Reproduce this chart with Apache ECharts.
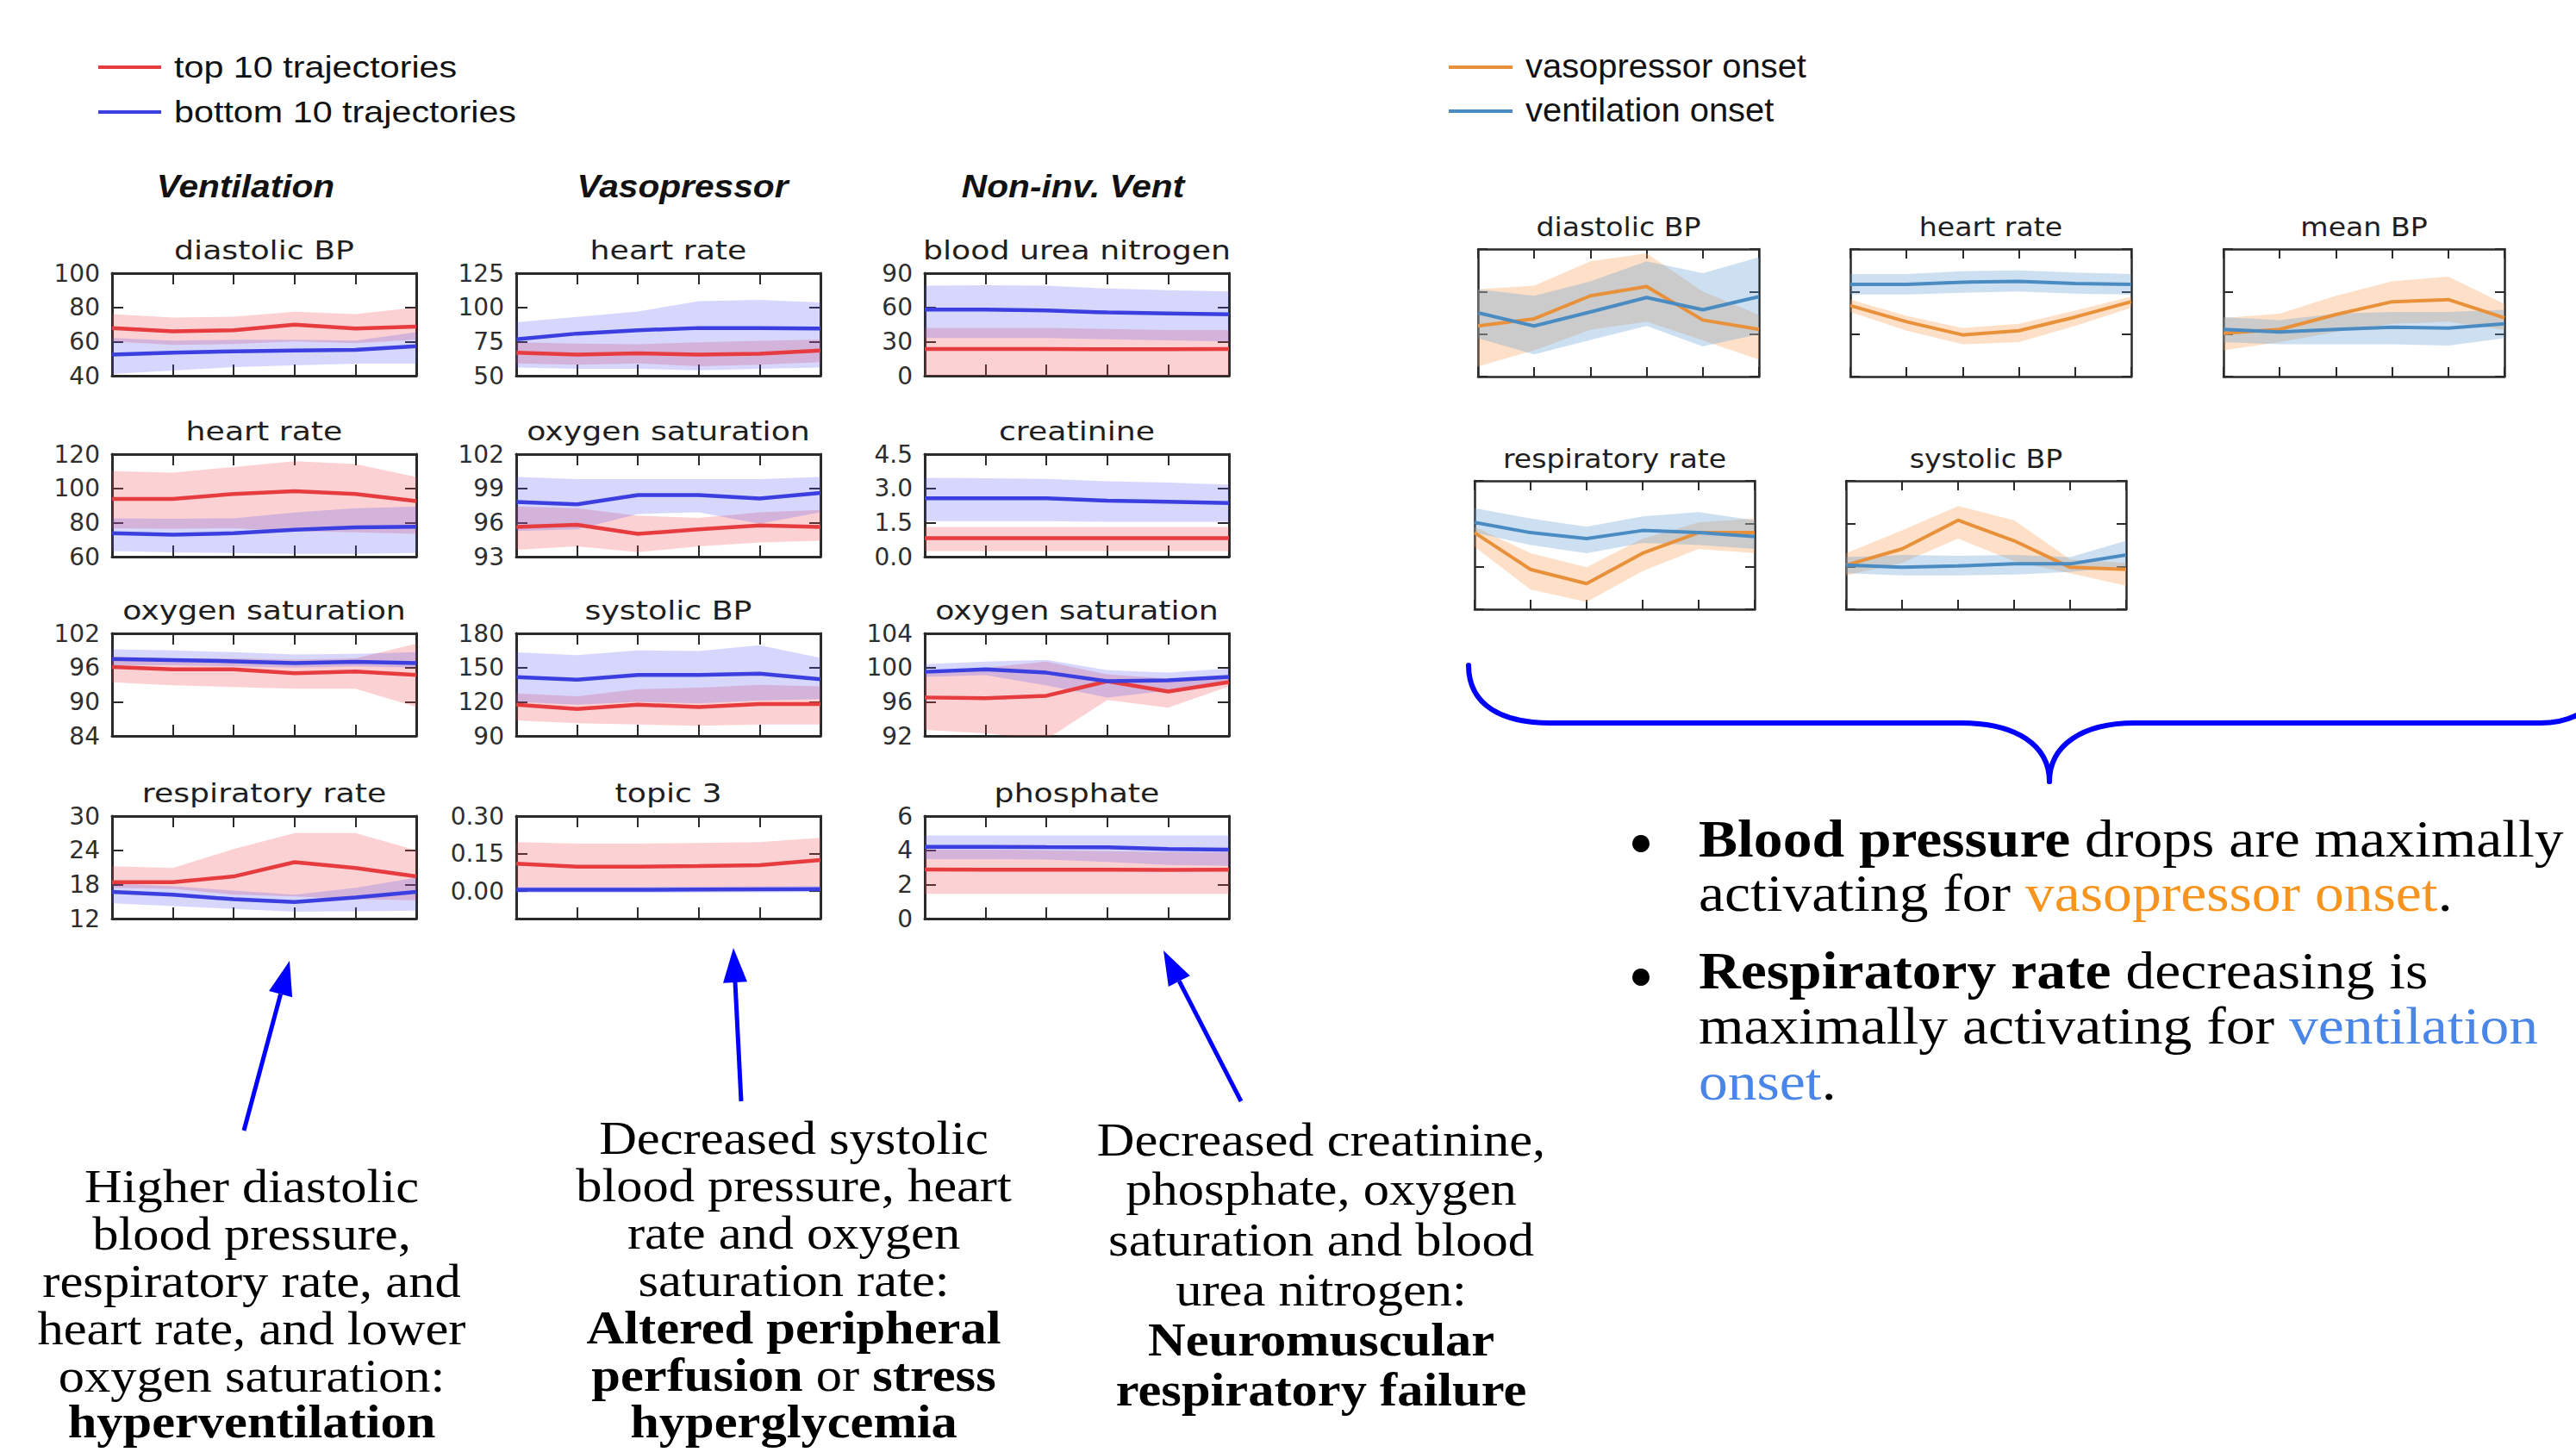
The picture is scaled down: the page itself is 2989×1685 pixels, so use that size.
<!DOCTYPE html>
<html><head><meta charset="utf-8">
<script src="https://cdn.jsdelivr.net/npm/echarts@6/dist/echarts.min.js"></script>
<style>html,body{margin:0;padding:0;background:#fff;}#c{width:2989px;height:1685px;}</style>
</head><body><div id="c"></div>
<script>
// ---------- DATA ----------
const timeSteps = ['0', '1', '2', '3', '4', '5'];

// Ventilation: diastolic BP
const ventDiaTopMean = [67.9, 66.0, 66.6, 69.9, 67.6, 68.8];
const ventDiaTopLow  = [60, 58, 58.5, 60, 59, 61];
const ventDiaTopHigh = [76, 74, 74.5, 77.5, 76, 80];
const ventDiaBotMean = [52.3, 53.5, 54.3, 54.8, 55.1, 57.3];
const ventDiaBotLow  = [41, 43, 45, 46, 47, 47];
const ventDiaBotHigh = [62, 60.5, 61, 61, 60.5, 65.5];
// Ventilation: heart rate
const ventHrTopMean = [93.8, 93.8, 96.7, 98.3, 96.7, 92.5];
const ventHrTopLow  = [76.7, 76.2, 76.7, 75, 74.2, 73.3];
const ventHrTopHigh = [110, 109.2, 112.5, 115.8, 114.2, 106.7];
const ventHrBotMean = [73.7, 72.8, 73.7, 75.8, 77.2, 77.5];
const ventHrBotLow  = [63.3, 62.5, 62.2, 61.7, 61.7, 62.2];
const ventHrBotHigh = [82.5, 82.2, 82.5, 85.8, 88.3, 89.2];
// Ventilation: oxygen saturation
const ventO2TopMean = [96.1, 95.7, 95.7, 95.0, 95.3, 94.7];
const ventO2TopLow  = [93.4, 92.9, 92.6, 92.3, 92.3, 89.1];
const ventO2TopHigh = [97.9, 97.6, 97.6, 97.4, 97.6, 100.2];
const ventO2BotMean = [97.5, 97.3, 97.1, 96.8, 97.0, 96.8];
const ventO2BotLow  = [96.4, 96.4, 96.2, 96.0, 96.2, 96.0];
const ventO2BotHigh = [99.2, 99.0, 98.7, 98.3, 98.4, 98.7];
// Ventilation: respiratory rate
const ventRrTopMean = [18.4, 18.4, 19.4, 21.9, 20.9, 19.4];
const ventRrTopLow  = [17.4, 17.2, 16.2, 15.9, 15.4, 15.2];
const ventRrTopHigh = [21.2, 20.9, 24.2, 27.0, 27.0, 24.0];
const ventRrBotMean = [16.7, 16.2, 15.4, 14.9, 15.7, 16.7];
const ventRrBotLow  = [14.7, 14.2, 13.7, 13.2, 13.3, 13.4];
const ventRrBotHigh = [18.2, 17.7, 16.9, 16.2, 17.4, 19.2];

// Vasopressor: heart rate
const vasoHrTopMean = [66.8, 65.4, 66.4, 65.4, 66.0, 68.5];
const vasoHrTopLow  = [59, 58, 59, 57, 58, 60];
const vasoHrTopHigh = [74.5, 73.5, 73, 74.5, 75.5, 76.5];
const vasoHrBotMean = [76.7, 80.8, 83.3, 84.9, 84.9, 84.5];
const vasoHrBotLow  = [56, 55, 55, 54, 55, 56];
const vasoHrBotHigh = [89, 93, 97, 104.5, 105.5, 103.5];
// Vasopressor: oxygen saturation
const vasoO2TopMean = [95.6, 95.8, 95.0, 95.4, 95.75, 95.6];
const vasoO2TopLow  = [93.6, 93.9, 93.4, 93.9, 94.25, 94.4];
const vasoO2TopHigh = [97.4, 97.25, 96.6, 96.4, 96.9, 97.1];
const vasoO2BotMean = [97.8, 97.6, 98.4, 98.4, 98.1, 98.6];
const vasoO2BotLow  = [95.25, 95.4, 96.75, 96.9, 95.9, 96.9];
const vasoO2BotHigh = [100, 99.8, 99.8, 99.8, 99.8, 100];
// Vasopressor: systolic BP
const vasoSbpTopMean = [117.4, 113.6, 117.4, 115.4, 117.9, 117.9];
const vasoSbpTopLow  = [103.7, 101.2, 100, 98.8, 100, 100];
const vasoSbpTopHigh = [127.3, 124.8, 131, 132.3, 134.8, 133.5];
const vasoSbpBotMean = [141.7, 139.3, 143.5, 143.5, 144.7, 139.7];
const vasoSbpBotLow  = [119.8, 117.4, 119.8, 118.6, 121.1, 122.3];
const vasoSbpBotHigh = [163.3, 160.9, 165, 164.5, 169.6, 158.4];
// Vasopressor: topic 3
const vasoTopicTopMean = [0.11, 0.098, 0.098, 0.1, 0.104, 0.124];
const vasoTopicTopLow  = [0.015, 0.015, 0.015, 0.015, 0.016, 0.018];
const vasoTopicTopHigh = [0.196, 0.19, 0.19, 0.192, 0.196, 0.213];
const vasoTopicBotMean = [0.005, 0.005, 0.005, 0.006, 0.007, 0.008];
const vasoTopicBotLow  = [-0.007, -0.007, -0.007, -0.006, -0.005, -0.004];
const vasoTopicBotHigh = [0.017, 0.017, 0.017, 0.018, 0.019, 0.02];

// Non-inv. Vent: blood urea nitrogen
const nivBunTopMean = [23.5, 23.4, 23.4, 23.3, 23.3, 23.4];
const nivBunTopLow  = [-4, -4, -4, -4, -4, -4];
const nivBunTopHigh = [42, 42, 42, 41, 40, 40];
const nivBunBotMean = [58.0, 58.0, 57.2, 55.5, 54.7, 53.8];
const nivBunBotLow  = [33, 33, 33, 32, 31, 30];
const nivBunBotHigh = [79, 79.5, 79, 76.5, 75, 74];
// Non-inv. Vent: creatinine
const nivCrTopMean = [0.81, 0.81, 0.81, 0.81, 0.81, 0.81];
const nivCrTopLow  = [0.25, 0.25, 0.25, 0.25, 0.25, 0.25];
const nivCrTopHigh = [1.3, 1.3, 1.3, 1.3, 1.3, 1.3];
const nivCrBotMean = [2.56, 2.56, 2.56, 2.46, 2.41, 2.35];
const nivCrBotLow  = [1.56, 1.56, 1.56, 1.53, 1.53, 1.53];
const nivCrBotHigh = [3.46, 3.44, 3.41, 3.31, 3.25, 3.16];
// Non-inv. Vent: oxygen saturation
const nivO2TopMean = [96.5, 96.4, 96.7, 98.4, 97.2, 98.3];
const nivO2TopLow  = [92.7, 92.3, 91.6, 96.2, 95.3, 97.8];
const nivO2TopHigh = [99.5, 100, 100.7, 99.2, 98.7, 99.0];
const nivO2BotMean = [99.5, 99.8, 99.4, 98.4, 98.5, 98.9];
const nivO2BotLow  = [98.9, 99.1, 97.9, 96.5, 97.3, 98.1];
const nivO2BotHigh = [100.4, 100.7, 100.9, 99.7, 99.4, 99.9];
// Non-inv. Vent: phosphate
const nivPhTopMean = [2.87, 2.86, 2.86, 2.86, 2.85, 2.86];
const nivPhTopLow  = [1.45, 1.45, 1.45, 1.45, 1.45, 1.45];
const nivPhTopHigh = [4.05, 4.05, 4.0, 3.95, 3.9, 3.9];
const nivPhBotMean = [4.2, 4.2, 4.18, 4.17, 4.07, 4.03];
const nivPhBotLow  = [3.48, 3.48, 3.45, 3.31, 3.14, 3.09];
const nivPhBotHigh = [4.87, 4.87, 4.87, 4.87, 4.87, 4.87];

// Right figure (normalised units, axis 0..3)
const rDiaVasoMean = [1.19, 1.36, 1.90, 2.12, 1.33, 1.11];
const rDiaVasoLow  = [0.24, 0.62, 1.10, 1.29, 0.85, 0.40];
const rDiaVasoHigh = [2.05, 2.14, 2.71, 2.90, 2.00, 1.45];
const rDiaVentMean = [1.50, 1.19, 1.52, 1.86, 1.57, 1.88];
const rDiaVentLow  = [0.90, 0.52, 0.86, 1.19, 0.71, 1.00];
const rDiaVentHigh = [2.05, 1.90, 2.24, 2.71, 2.43, 2.81];

const rHrVasoMean = [1.67, 1.29, 0.98, 1.08, 1.40, 1.76];
const rHrVasoLow  = [1.52, 1.08, 0.76, 0.81, 1.19, 1.62];
const rHrVasoHigh = [1.81, 1.43, 1.14, 1.24, 1.55, 1.88];
const rHrVentMean = [2.17, 2.17, 2.22, 2.24, 2.19, 2.17];
const rHrVentLow  = [1.93, 1.93, 1.97, 2.00, 1.95, 1.93];
const rHrVentHigh = [2.41, 2.41, 2.48, 2.50, 2.45, 2.41];

const rMbpVasoMean = [1.02, 1.11, 1.46, 1.76, 1.81, 1.38];
const rMbpVasoLow  = [0.62, 0.81, 1.05, 1.24, 1.29, 1.10];
const rMbpVasoHigh = [1.38, 1.48, 1.90, 2.24, 2.35, 1.71];
const rMbpVentMean = [1.11, 1.05, 1.11, 1.16, 1.14, 1.24];
const rMbpVentLow  = [0.81, 0.76, 0.76, 0.76, 0.73, 0.90];
const rMbpVentHigh = [1.40, 1.33, 1.48, 1.52, 1.52, 1.57];

const rRrVasoMean = [1.79, 0.93, 0.60, 1.31, 1.79, 1.79];
const rRrVasoLow  = [1.46, 0.46, 0.17, 0.89, 1.41, 1.31];
const rRrVasoHigh = [1.93, 1.31, 0.98, 1.65, 2.03, 2.12];
const rRrVentMean = [2.03, 1.79, 1.65, 1.84, 1.79, 1.70];
const rRrVentLow  = [1.79, 1.50, 1.31, 1.55, 1.50, 1.41];
const rRrVentHigh = [2.36, 2.12, 1.93, 2.17, 2.27, 2.08];

const rSbpVasoMean = [1.03, 1.41, 2.08, 1.60, 0.98, 0.93];
const rSbpVasoLow  = [0.79, 1.08, 1.65, 1.12, 0.84, 0.55];
const rSbpVasoHigh = [1.31, 1.84, 2.41, 2.08, 1.17, 1.08];
const rSbpVentMean = [1.03, 0.98, 1.01, 1.06, 1.06, 1.27];
const rSbpVentLow  = [0.84, 0.79, 0.79, 0.81, 0.87, 0.98];
const rSbpVentHigh = [1.22, 1.27, 1.25, 1.27, 1.22, 1.60];

// panel definitions (titles, axis ranges, data refs)
const leftPanels = [
  {col:0,row:0,title:'diastolic BP',min:40,max:100,interval:20,dec:0,top:[ventDiaTopMean,ventDiaTopLow,ventDiaTopHigh],bot:[ventDiaBotMean,ventDiaBotLow,ventDiaBotHigh]},
  {col:0,row:1,title:'heart rate',min:60,max:120,interval:20,dec:0,top:[ventHrTopMean,ventHrTopLow,ventHrTopHigh],bot:[ventHrBotMean,ventHrBotLow,ventHrBotHigh]},
  {col:0,row:2,title:'oxygen saturation',min:84,max:102,interval:6,dec:0,top:[ventO2TopMean,ventO2TopLow,ventO2TopHigh],bot:[ventO2BotMean,ventO2BotLow,ventO2BotHigh]},
  {col:0,row:3,title:'respiratory rate',min:12,max:30,interval:6,dec:0,top:[ventRrTopMean,ventRrTopLow,ventRrTopHigh],bot:[ventRrBotMean,ventRrBotLow,ventRrBotHigh]},
  {col:1,row:0,title:'heart rate',min:50,max:125,interval:25,dec:0,top:[vasoHrTopMean,vasoHrTopLow,vasoHrTopHigh],bot:[vasoHrBotMean,vasoHrBotLow,vasoHrBotHigh]},
  {col:1,row:1,title:'oxygen saturation',min:93,max:102,interval:3,dec:0,top:[vasoO2TopMean,vasoO2TopLow,vasoO2TopHigh],bot:[vasoO2BotMean,vasoO2BotLow,vasoO2BotHigh]},
  {col:1,row:2,title:'systolic BP',min:90,max:180,interval:30,dec:0,top:[vasoSbpTopMean,vasoSbpTopLow,vasoSbpTopHigh],bot:[vasoSbpBotMean,vasoSbpBotLow,vasoSbpBotHigh]},
  {col:1,row:3,title:'topic 3',min:-0.11,max:0.3,ticks:[0,0.15,0.3],dec:2,top:[vasoTopicTopMean,vasoTopicTopLow,vasoTopicTopHigh],bot:[vasoTopicBotMean,vasoTopicBotLow,vasoTopicBotHigh]},
  {col:2,row:0,title:'blood urea nitrogen',min:0,max:90,interval:30,dec:0,top:[nivBunTopMean,nivBunTopLow,nivBunTopHigh],bot:[nivBunBotMean,nivBunBotLow,nivBunBotHigh]},
  {col:2,row:1,title:'creatinine',min:0,max:4.5,interval:1.5,dec:1,top:[nivCrTopMean,nivCrTopLow,nivCrTopHigh],bot:[nivCrBotMean,nivCrBotLow,nivCrBotHigh]},
  {col:2,row:2,title:'oxygen saturation',min:92,max:104,interval:4,dec:0,top:[nivO2TopMean,nivO2TopLow,nivO2TopHigh],bot:[nivO2BotMean,nivO2BotLow,nivO2BotHigh]},
  {col:2,row:3,title:'phosphate',min:0,max:6,interval:2,dec:0,top:[nivPhTopMean,nivPhTopLow,nivPhTopHigh],bot:[nivPhBotMean,nivPhBotLow,nivPhBotHigh]}
];
const rightPanels = [
  {slot:0,title:'diastolic BP',vaso:[rDiaVasoMean,rDiaVasoLow,rDiaVasoHigh],vent:[rDiaVentMean,rDiaVentLow,rDiaVentHigh]},
  {slot:1,title:'heart rate',vaso:[rHrVasoMean,rHrVasoLow,rHrVasoHigh],vent:[rHrVentMean,rHrVentLow,rHrVentHigh]},
  {slot:2,title:'mean BP',vaso:[rMbpVasoMean,rMbpVasoLow,rMbpVasoHigh],vent:[rMbpVentMean,rMbpVentLow,rMbpVentHigh]},
  {slot:3,title:'respiratory rate',vaso:[rRrVasoMean,rRrVasoLow,rRrVasoHigh],vent:[rRrVentMean,rRrVentLow,rRrVentHigh]},
  {slot:4,title:'systolic BP',vaso:[rSbpVasoMean,rSbpVasoLow,rSbpVasoHigh],vent:[rSbpVentMean,rSbpVentLow,rSbpVentHigh]}
];

// ---------- LAYOUT / STYLE ----------
const colX = [130, 599, 1073], panelW = 353;
const rowY = [317, 527, 735, 947], panelH = 119;
const rightSlots = [[1715,289,326,148],[2147,289,326,148],[2580,289,326,148],[1711,558,325,149],[2142,558,325,149]];
const frameColor = '#2a2a2a';
const redLine = '#e63c40', blueLine = '#3b3fe0';
const redBand = 'rgba(245,70,80,0.25)', blueBand = 'rgba(80,80,245,0.23)';
const orLine = '#e8913a', sbLine = '#4a8bc2';
const orBand = 'rgba(250,160,80,0.32)', sbBand = 'rgba(100,160,215,0.32)';
const SANS = 'Liberation Sans', DJ = 'DejaVu Sans', SERIF = 'Liberation Serif';

const grids = [], xAxes = [], yAxes = [], series = [], graphics = [];

function addGrid(l, t, w, h, ycfg, frameW, tickLen, showLabels) {
  const gi = grids.length;
  grids.push({left:l, top:t, width:w, height:h, containLabel:false, show:false});
  const ls = {color:frameColor, width:frameW};
  const ts = {color:frameColor, width:2};
  ['bottom','top'].forEach(pos => xAxes.push({type:'category', gridIndex:gi, position:pos, data:timeSteps, boundaryGap:false,
    axisLine:{show:true,onZero:false,lineStyle:ls}, axisTick:{show:true,inside:true,length:tickLen,interval:0,lineStyle:ts},
    axisLabel:{show:false}, splitLine:{show:false}}));
  ['left','right'].forEach((pos,k) => {
    const ax = {type:'value', gridIndex:gi, position:pos, min:ycfg.min, max:ycfg.max,
      axisLine:{show:true,onZero:false,lineStyle:ls}, axisTick:{show:true,inside:true,length:tickLen,lineStyle:ts},
      axisLabel:{show:(k===0 && showLabels), fontSize:28, fontFamily:DJ, color:'#2e2e2e', margin:14,
        formatter: v => Number(v).toFixed(ycfg.dec)},
      splitLine:{show:false}};
    if (ycfg.ticks) { ax.axisTick.customValues = ycfg.ticks; ax.axisLabel.customValues = ycfg.ticks; }
    else ax.interval = ycfg.interval;
    yAxes.push(ax);
  });
  return gi;
}
function addBand(gi, low, high, color) {
  const id = 'stk' + series.length;
  const base = {type:'line', xAxisIndex:2*gi, yAxisIndex:2*gi, symbol:'none', silent:true, stack:id, stackStrategy:'all', z:2, lineStyle:{opacity:0, width:0}};
  series.push(Object.assign({}, base, {data: low}));
  series.push(Object.assign({}, base, {data: high.map((h,i)=>+(h-low[i]).toFixed(5)), areaStyle:{color:color, opacity:1}}));
}
function addLine(gi, mean, color, w) {
  series.push({type:'line', xAxisIndex:2*gi, yAxisIndex:2*gi, symbol:'none', silent:true, z:4, data:mean, lineStyle:{color:color, width:w}});
}
function txt(x, baseline, text, o) {
  const fs = o.fs;
  const st = {text:text, fontSize:fs, fontFamily:o.ff, fontWeight:o.fw||'normal', fontStyle:o.fst||'normal',
    fill:o.fill||'#111', align:o.align||'left', verticalAlign:'middle', textAlign:o.align||'left', textVerticalAlign:'middle'};
  if (o.rich) st.rich = o.rich;
  graphics.push({type:'text', x:x, y:baseline - 0.35*fs, scaleX:o.sx||1, style:st, z:10, silent:true});
}

// left panels
leftPanels.forEach(p => {
  const l = colX[p.col], t = rowY[p.row];
  const gi = addGrid(l, t, panelW, panelH, p, 3, 13, true);
  addBand(gi, p.top[1], p.top[2], redBand);
  addBand(gi, p.bot[1], p.bot[2], blueBand);
  addLine(gi, p.top[0], redLine, 4.5);
  addLine(gi, p.bot[0], blueLine, 4.5);
  txt(l + panelW/2, t - 16, p.title, {fs:31, ff:DJ, fill:'#1e1e1e', align:'center', sx:1.17});
});
// right panels
rightPanels.forEach(p => {
  const s = rightSlots[p.slot];
  const gi = addGrid(s[0], s[1], s[2], s[3], {min:0,max:3,interval:1,dec:0}, 2.5, 11, false);
  addBand(gi, p.vaso[1], p.vaso[2], orBand);
  addBand(gi, p.vent[1], p.vent[2], sbBand);
  addLine(gi, p.vaso[0], orLine, 4);
  addLine(gi, p.vent[0], sbLine, 4);
  txt(s[0] + s[2]/2, s[1] - 15, p.title, {fs:31, ff:DJ, fill:'#1e1e1e', align:'center', sx:1.07});
});

// column headers
[['Ventilation',285],['Vasopressor',792],['Non-inv. Vent',1245]].forEach(h =>
  txt(h[1], 229, h[0], {fs:36, ff:SANS, fw:'bold', fst:'italic', fill:'#111', align:'center', sx:1.13}));

// legends
function legLine(x1, x2, y, color, w) {
  graphics.push({type:'line', shape:{x1:x1,y1:y,x2:x2,y2:y}, style:{stroke:color, lineWidth:w}, silent:true});
}
legLine(114, 187, 78, redLine, 4);  txt(202, 90, 'top 10 trajectories', {fs:35, ff:SANS, fill:'#111', sx:1.18});
legLine(114, 187, 130, blueLine, 4); txt(202, 141.5, 'bottom 10 trajectories', {fs:35, ff:SANS, fill:'#111', sx:1.18});
legLine(1681, 1755, 78, orLine, 4);  txt(1770, 90, 'vasopressor onset', {fs:38, ff:SANS, fill:'#111', sx:1.05});
legLine(1681, 1755, 129, sbLine, 4); txt(1770, 141, 'ventilation onset', {fs:38, ff:SANS, fill:'#111', sx:1.05});

// arrows
function arrow(tx, ty, hx, hy) {
  const dx = hx - tx, dy = hy - ty, L = Math.hypot(dx, dy), ux = dx/L, uy = dy/L;
  const hl = 40, hw = 14;
  const bx = hx - ux*hl, by = hy - uy*hl;
  graphics.push({type:'line', shape:{x1:tx,y1:ty,x2:bx,y2:by}, style:{stroke:'#0000ff', lineWidth:5}, silent:true});
  graphics.push({type:'polygon', shape:{points:[[hx,hy],[bx-uy*hw,by+ux*hw],[bx+uy*hw,by-ux*hw]]}, style:{fill:'#0000ff'}, silent:true});
}
arrow(283, 1312, 336, 1115);
arrow(860, 1278, 851, 1100);
arrow(1440, 1278, 1350, 1103);

// brace
const bs = {stroke:'#0000ff', lineWidth:6, fill:null, lineCap:'round'};
function bez(x1,y1,c1x,c1y,c2x,c2y,x2,y2){ graphics.push({type:'bezierCurve', shape:{x1:x1,y1:y1,cpx1:c1x,cpy1:c1y,cpx2:c2x,cpy2:c2y,x2:x2,y2:y2}, style:bs, silent:true}); }
bez(1704,772, 1704,820, 1745,839, 1799,839);
graphics.push({type:'line', shape:{x1:1799,y1:839,x2:2275,y2:839}, style:bs, silent:true});
bez(2275,839, 2340,839, 2378,865, 2378,907);
bez(2378,907, 2378,865, 2416,839, 2477,839);
graphics.push({type:'line', shape:{x1:2477,y1:839,x2:2947,y2:839}, style:bs, silent:true});
bez(2947,839, 2968,839, 2982,835, 2995,827);

// serif text blocks
function rich(fs){ return {
  b:{fontWeight:'bold', fontSize:fs, fontFamily:SERIF, fill:'#000', color:'#000'},
  o:{fontSize:fs, fontFamily:SERIF, fill:'#f7941d', color:'#f7941d'},
  v:{fontSize:fs, fontFamily:SERIF, fill:'#4a86e8', color:'#4a86e8'}}; }
const BF = 55, BSX = 1.1;
function block(cx, baselines, lines) {
  lines.forEach((ln, i) => txt(cx, baselines[i], ln, {fs:BF, ff:SERIF, fill:'#000', align:'center', sx:BSX, rich:rich(BF)}));
}
block(292, [1396,1451,1506,1561,1616,1669], ['Higher diastolic','blood pressure,','respiratory rate, and','heart rate, and lower','oxygen saturation:','{b|hyperventilation}']);
block(921, [1340,1395,1450,1505,1560,1615,1669], ['Decreased systolic','blood pressure, heart','rate and oxygen','saturation rate:','{b|Altered peripheral}','{b|perfusion} or {b|stress}','{b|hyperglycemia}']);
block(1533, [1342,1399,1458,1516,1574,1632], ['Decreased creatinine,','phosphate, oxygen','saturation and blood','urea nitrogen:','{b|Neuromuscular}','{b|respiratory failure}']);

// bullets
const PF = 62;
graphics.push({type:'circle', shape:{cx:1904, cy:979, r:10}, style:{fill:'#000'}, silent:true});
graphics.push({type:'circle', shape:{cx:1904, cy:1134, r:10}, style:{fill:'#000'}, silent:true});
[['{b|Blood pressure} drops are maximally',995],['activating for {o|vasopressor onset}.',1058],
 ['{b|Respiratory rate} decreasing is',1148],['maximally activating for {v|ventilation}',1212],['{v|onset}.',1277]]
 .forEach(l => txt(1971, l[1], l[0], {fs:PF, ff:SERIF, fill:'#000', sx:1.09, rich:rich(PF)}));

const chart = echarts.init(document.getElementById('c'), null, {renderer:'svg', width:2989, height:1685});
chart.setOption({animation:false, backgroundColor:'#fff', grid:grids, xAxis:xAxes, yAxis:yAxes, series:series, graphic:{elements:graphics}});
</script></body></html>
